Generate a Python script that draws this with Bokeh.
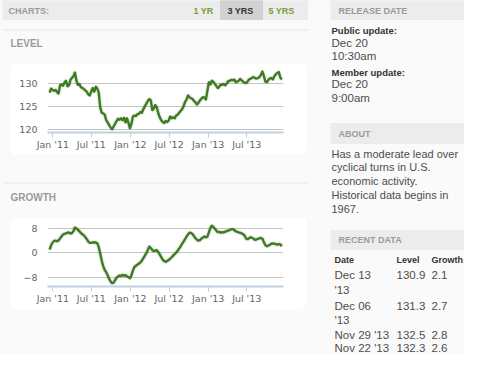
import datetime as dt
from bokeh.plotting import figure
from bokeh.models import Range1d, FixedTicker, Spacer
from bokeh.layouts import row, column
from bokeh.core.properties import value
from bokeh.embed import file_html
from bokeh.resources import INLINE

# ---------------- data ----------------
start_date = dt.datetime(2010, 12, 17)   # weekly, Fridays
level = [
    128.0, 128.9, 128.6, 128.4, 128.6, 128.1, 127.8, 129.6, 129.8, 129.5,
    130.2, 130.6, 129.4, 129.6, 130.8, 131.2, 131.6, 132.4, 130.6, 129.7,
    129.9, 129.2, 129.0, 128.8, 128.5, 128.2, 127.6, 127.4, 128.3, 129.0,
    128.2, 129.3, 128.9, 128.0, 124.8, 123.6, 123.5, 123.2, 122.0, 121.5,
    120.9, 120.4, 120.0, 120.6, 121.2, 121.8, 122.3, 122.1, 122.4, 122.0,
    122.5, 121.5, 122.4, 121.4, 120.2, 121.3, 122.8, 123.0, 122.9, 123.3,
    123.4, 123.8, 123.6, 124.4, 125.0, 125.6, 126.2, 126.6, 126.3, 124.2,
    124.5, 125.3, 124.8, 123.5, 122.6, 122.0, 121.6, 121.4, 121.8, 121.6,
    121.9, 122.8, 122.4, 122.6, 122.4, 123.0, 123.2, 123.6, 124.0, 124.4,
    125.0, 126.0, 126.5, 127.4, 127.0, 126.8, 126.6, 126.2, 125.9, 125.4,
    125.8, 126.3, 126.7, 127.0, 126.9, 126.5, 128.4, 130.3, 129.8, 130.6,
    130.4, 129.9, 129.5, 129.0, 129.3, 129.8, 129.7, 129.9, 129.6, 130.0,
    130.5, 130.6, 130.8, 130.7, 130.9, 130.3, 130.4, 130.6, 131.0, 130.7,
    130.4, 130.2, 130.1, 130.4, 130.9, 131.0, 131.3, 131.4, 131.2, 131.1,
    131.2, 131.4, 131.9, 132.6, 131.6, 130.4, 130.3, 130.8, 131.1, 131.2,
    130.9, 131.6, 132.0, 132.3, 132.5, 131.3, 130.9,
]
growth = [
    1.0, 2.4, 3.3, 3.8, 3.9, 3.7, 4.0, 4.6, 5.3, 5.9,
    6.1, 6.3, 6.5, 6.6, 6.2, 6.4, 7.0, 8.2, 7.9, 7.4,
    7.0, 6.4, 6.0, 5.7, 5.0, 4.4, 3.6, 3.2, 3.2, 3.3,
    3.4, 3.3, 3.1, 1.8, -0.3, -2.6, -4.4, -5.6, -6.4, -7.4,
    -8.6, -9.4, -10.0, -9.8, -9.0, -8.2, -7.8, -7.5, -7.6, -7.3,
    -7.5, -7.4, -7.8, -8.0, -8.4, -7.4, -5.8, -4.7, -4.3, -3.9,
    -3.6, -3.2, -2.6, -1.8, -1.0, -0.2, 0.9, 2.0, 1.5, 0.8,
    0.5, 0.7, 0.8, 0.2, -0.6, -1.5, -2.3, -2.8, -3.0, -2.7,
    -2.4, -2.0, -1.5, -1.0, -0.5, 0.0, 0.6, 1.3, 2.0, 2.9,
    3.6, 4.4, 5.2, 6.0, 6.5, 6.4, 6.1, 5.4, 4.7, 4.2,
    3.9, 4.1, 4.6, 4.9, 5.3, 5.0, 5.2, 6.6, 8.0, 8.8,
    8.4, 7.8, 7.2, 6.7, 6.8, 6.5, 6.7, 6.6, 6.9, 7.0,
    7.2, 7.4, 7.6, 7.7, 7.4, 7.0, 6.8, 6.6, 6.5, 6.3,
    6.0, 5.6, 4.6, 4.4, 4.7, 5.0, 4.8, 4.6, 4.2, 4.3,
    4.5, 4.7, 4.8, 4.5, 3.4, 2.4, 2.1, 2.3, 2.6, 2.9,
    3.0, 2.9, 2.8, 2.6, 2.8, 2.7, 2.1,
]
dates = [start_date + dt.timedelta(weeks=i) for i in range(len(level))]

tick_dates = [dt.datetime(2011, 1, 1), dt.datetime(2011, 7, 1), dt.datetime(2012, 1, 1),
              dt.datetime(2012, 7, 1), dt.datetime(2013, 1, 1), dt.datetime(2013, 7, 1)]
tick_labels = ["Jan '11", "Jul '11", "Jan '12", "Jul '12", "Jan '13", "Jul '13"]
level_ticks = [120, 125, 130]
growth_ticks = [-8, 0, 8]

release_lines = ["Public update:", "Dec 20", "10:30am", "Member update:", "Dec 20", "9:00am"]
about_lines = ["Has a moderate lead over", "cyclical turns in U.S.", "economic activity.",
               "Historical data begins in", "1967."]
table_header = ["Date", "Level", "Growth"]
recent_date_lines = [["Dec 13", "'13"], ["Dec 06", "'13"], ["Nov 29 '13"], ["Nov 22 '13"]]
recent_level = ["130.9", "131.3", "132.5", "132.3"]
recent_growth = ["2.1", "2.7", "2.8", "2.6"]

# ---------------- style ----------------
PAGE_BG = "#fafafa"
BAR_BG = "#ececec"
SEL_BG = "#d2d2d2"
BAR_TXT = "#9a9a9a"
GREEN_TXT = "#74a036"
DARK = "#333333"
BODY = "#4d4d4d"
LINE = "#3c7c1e"
SANS = value("Liberation Sans")


def ms(d):
    return (d - dt.datetime(1970, 1, 1)).total_seconds() * 1000.0


def add_text(p, xs, ys, texts, size, color, bold=False, align="left"):
    p.text(x=xs, y=ys, text=texts, text_font=SANS, text_font_size=value(size),
           text_color=color, text_font_style="bold" if bold else "normal",
           text_baseline="middle", text_align=align)


def blank(width, height, x0, x1, y0, y1, bg):
    p = figure(width=width, height=height, x_range=Range1d(x0, x1), y_range=Range1d(y1, y0),
               x_axis_location=None, y_axis_location=None, toolbar_location=None,
               output_backend="svg", min_border=0)
    p.grid.visible = False
    p.outline_line_color = None
    p.background_fill_color = bg
    p.border_fill_color = bg
    return p


def chart(vals, y0, y1, yticks, top):
    p = figure(width=297, height=92, x_axis_type="datetime", output_backend="svg",
               toolbar_location=None,
               x_range=Range1d(ms(dt.datetime(2010, 12, 7)), ms(dt.datetime(2013, 12, 21))),
               y_range=Range1d(y0, y1), min_border_left=37, min_border_right=24,
               min_border_top=top, min_border_bottom=23,
               styles={"border-radius": "7px", "overflow": "hidden"})
    p.outline_line_color = None
    p.background_fill_color = "white"
    p.border_fill_color = "white"
    p.xgrid.grid_line_color = None
    p.ygrid.grid_line_color = "#c4c4c4"
    p.yaxis.ticker = FixedTicker(ticks=yticks)
    p.yaxis.axis_line_color = None
    p.yaxis.major_tick_line_color = None
    p.yaxis.minor_tick_line_color = None
    p.yaxis.major_tick_out = 0
    p.yaxis.major_label_standoff = 10
    p.yaxis.major_label_text_font = "DejaVu Sans"
    p.yaxis.major_label_text_font_size = "9.5px"
    p.yaxis.major_label_text_color = "#666666"
    tks = [ms(d) for d in tick_dates]
    p.xaxis.ticker = FixedTicker(ticks=tks)
    p.xaxis.major_label_overrides = {t: lab for t, lab in zip(tks, tick_labels)}
    p.xaxis.axis_line_color = "#c0d0e0"
    p.xaxis.axis_line_width = 2
    p.xaxis.major_tick_line_color = "#c0d0e0"
    p.xaxis.major_tick_in = 0
    p.xaxis.major_tick_out = 5
    p.xaxis.minor_tick_line_color = None
    p.xaxis.major_label_standoff = 1
    p.xaxis.major_label_text_font = "DejaVu Sans"
    p.xaxis.major_label_text_font_size = "9.5px"
    p.xaxis.major_label_text_color = "#666666"
    p.line(dates, vals, line_width=5, line_color="black", line_alpha=0.07)
    p.line(dates, vals, line_width=2.4, line_color=LINE, line_join="round")
    return p


# ---------------- left column ----------------
head = blank(306, 63, 2, 308, 0, 63, PAGE_BG)
head.quad(left=[2], right=[308], top=[0], bottom=[19], color=BAR_BG)
head.quad(left=[220], right=[262], top=[0], bottom=[19], color=SEL_BG)
head.segment(x0=[2], y0=[29.5], x1=[308], y1=[29.5], line_color="#e6e6e6", line_width=1)
add_text(head, [8], [10], ["CHARTS:"], "9px", BAR_TXT, True)
add_text(head, [193], [10], ["1 YR"], "9px", GREEN_TXT, True)
add_text(head, [227], [10], ["3 YRS"], "9px", DARK, True)
add_text(head, [268], [10], ["5 YRS"], "9px", GREEN_TXT, True)
add_text(head, [10], [43], ["LEVEL"], "10px", BAR_TXT, True)

level_fig = chart(level, 119.3, 133.5, level_ticks, 4)

mid = blank(306, 62, 2, 308, 155, 217, PAGE_BG)
mid.segment(x0=[2], y0=[182.5], x1=[308], y1=[182.5], line_color="#e6e6e6", line_width=1)
add_text(mid, [10], [197], ["GROWTH"], "10px", BAR_TXT, True)

growth_fig = chart(growth, -11.07, 10.5, growth_ticks, 3)

bg = {"background-color": PAGE_BG}
left = column(
    head,
    row(Spacer(width=8, height=92, styles=bg), level_fig, Spacer(width=1, height=92, styles=bg),
        styles=bg),
    mid,
    row(Spacer(width=8, height=92, styles=bg), growth_fig, Spacer(width=1, height=92, styles=bg),
        styles=bg),
    Spacer(width=306, height=46, styles=bg),
    styles=bg,
)

# ---------------- sidebar (x 330..464) ----------------
sb = blank(134, 355, 330, 464, 0, 355, PAGE_BG)
sb.quad(left=[330] * 3, right=[464] * 3, top=[0, 123, 230], bottom=[19, 143, 249], color=BAR_BG)
add_text(sb, [338, 338, 338], [10, 133, 239.5], ["RELEASE DATE", "ABOUT", "RECENT DATA"],
         "9px", BAR_TXT, True)
rel_y = [30, 42, 55.5, 71.5, 83.5, 97]
add_text(sb, [331, 331], [rel_y[0], rel_y[3]], [release_lines[0], release_lines[3]], "9.5px", DARK, True)
add_text(sb, [331] * 4, [rel_y[1], rel_y[2], rel_y[4], rel_y[5]],
         [release_lines[1], release_lines[2], release_lines[4], release_lines[5]], "11.5px", BODY)
add_text(sb, [331] * 5, [153.3, 166.8, 180.3, 194, 208], about_lines, "11px", BODY)
add_text(sb, [334, 396, 431], [259, 259, 259], table_header, "9px", DARK, True)
row_y = [[274.5, 289], [305, 319.5], [334], [347.5]]
tx, ty, tt = [], [], []
for lines, ys in zip(recent_date_lines, row_y):
    for ln, yy in zip(lines, ys):
        tx.append(334); ty.append(yy); tt.append(ln)
add_text(sb, tx, ty, tt, "11.5px", BODY)
add_text(sb, [396] * 4, [r[0] for r in row_y], recent_level, "11.5px", BODY)
add_text(sb, [431] * 4, [r[0] for r in row_y], recent_growth, "11.5px", BODY)

page = row(Spacer(width=2, height=355, styles=bg), left,
           Spacer(width=22, height=355, styles=bg), sb, styles=bg)

open("out.html", "w").write(file_html(page, INLINE))
